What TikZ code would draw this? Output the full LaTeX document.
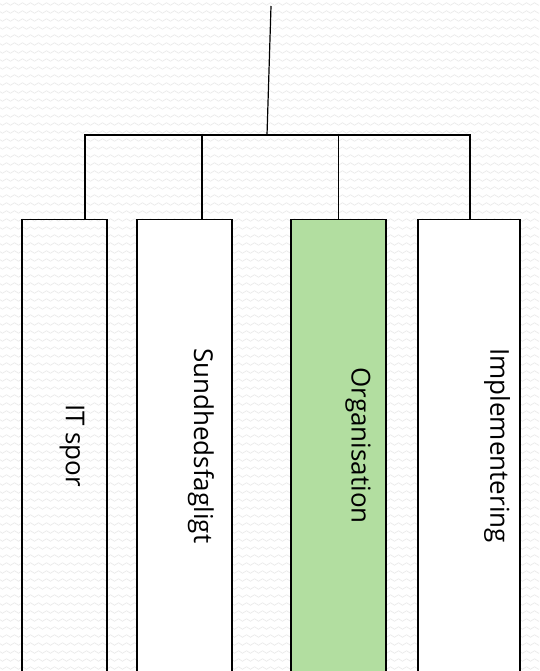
\documentclass[tikz,border=0pt]{standalone}
\usepackage{fontspec}
\setmainfont{Open Sans}
\usetikzlibrary{decorations.pathmorphing}

\definecolor{orggreen}{RGB}{178,222,160}
\definecolor{wavegray}{RGB}{232,232,232}

\tikzset{
  spor/.style={draw, line width=1.2pt, minimum width=#1, minimum height=452pt,
    anchor=north, inner sep=0pt},
  sporlabel/.style={rotate=-90, inner sep=0pt, font=\fontsize{26}{30}\selectfont},
  bus/.style={line width=1.2pt},
  wave/.style={draw=wavegray, line width=0.6pt, decorate,
    decoration={snake, segment length=8pt, amplitude=1.3pt}},
}

\begin{document}
\begin{tikzpicture}[x=1pt, y=-1pt]
\useasboundingbox (0,0) rectangle (539,671);
\clip (0,0) rectangle (539,671);
% wavy paper behind everything
\fill[white] (0,0) rectangle (539,671);
\foreach \y in {4,12,...,668}
  \draw[wave] (-4,\y) -- (545,\y);

% the four tracks
\node[spor=85pt] (it) at (64.5,219) {};
\node[spor=95pt, fill=white] (sund) at (184.5,219) {};
\node[spor=95pt, fill=orggreen] (org) at (338.5,219) {};
\node[spor=102pt, fill=white] (impl) at (469,219) {};

\node[sporlabel] (itlbl) at ([xshift=7.5pt]it.center) {IT spor};
\node[sporlabel] (sundlbl) at ([xshift=16.5pt]sund.center) {Sundhedsfagligt};
\node[sporlabel] (orglbl) at ([xshift=19.5pt]org.center) {Organisation};
\node[sporlabel] (impllbl) at ([xshift=28pt]impl.center) {Implementering};

% tree on top
\coordinate (top) at (271,6);
\coordinate (mid) at (267,135);
\draw[bus] (mid) -- (top);
\draw[bus] ([xshift=20.5pt]it.north) |- (mid) -| ([xshift=1pt]impl.north);
\draw[bus] ([xshift=17.5pt]sund.north) -- ([xshift=17.5pt]sund.north |- mid);
\draw[bus] (org.north) -- (org.north |- mid);
\end{tikzpicture}
\end{document}
